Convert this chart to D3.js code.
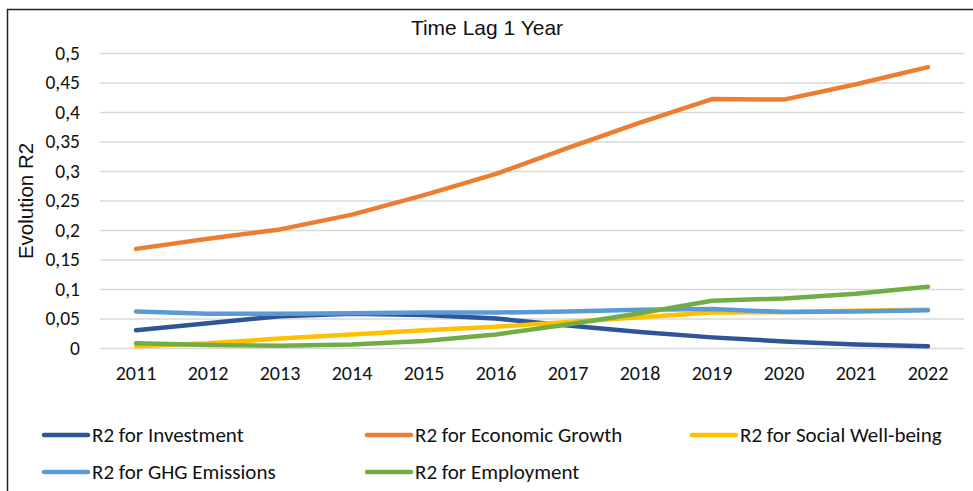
<!DOCTYPE html>
<html><head><meta charset="utf-8">
<script src="https://cdn.jsdelivr.net/npm/d3@7"></script>
<style>body{margin:0;background:#fff}svg{display:block}</style>
</head><body>
<svg id="c" width="973" height="491"></svg>
<script>
const years = [2011,2012,2013,2014,2015,2016,2017,2018,2019,2020,2021,2022];
const investment = [0.030,0.042,0.054,0.058,0.056,0.050,0.038,0.027,0.018,0.011,0.006,0.003];
const economicGrowth = [0.168,0.185,0.201,0.226,0.259,0.295,0.339,0.382,0.422,0.421,0.447,0.476];
const socialWellbeing = [0.003,0.008,0.016,0.023,0.030,0.036,0.044,0.052,0.060,0.061,0.063,0.065];
const ghgEmissions = [0.062,0.058,0.058,0.059,0.060,0.060,0.062,0.065,0.066,0.061,0.062,0.064];
const employment = [0.008,0.005,0.004,0.006,0.012,0.023,0.040,0.059,0.080,0.084,0.092,0.104];
const yTicks = [0,0.05,0.1,0.15,0.2,0.25,0.3,0.35,0.4,0.45,0.5];
const seriesNames = ["R2 for Investment","R2 for Economic Growth","R2 for Social Well-being","R2 for GHG Emissions","R2 for Employment"];
const seriesColors = ["#2F5597","#ED7D31","#FFC000","#5B9BD5","#70AD47"];
const seriesValues = [investment,economicGrowth,socialWellbeing,ghgEmissions,employment];

(function(){
const svg = d3.select("#c");
const pl=100,pr=964,pt=53,pb=348;
const x = d3.scaleBand().domain(years).range([pl,pr]);
const y = d3.scaleLinear().domain([0,0.5]).range([pb,pt]);
const labFont = "Carlito, 'Liberation Sans Narrow', 'Open Sans', sans-serif";

svg.append("path").attr("d","M7.5,491 V9.5 H973").attr("fill","none").attr("stroke","#222").attr("stroke-width",1.5);

const yAxis = d3.axisLeft(y).tickValues(yTicks).tickSize(-(pr-pl)).tickFormat(d=>String(d).replace(".",","));
const gy = svg.append("g").attr("transform",`translate(${pl},0)`).call(yAxis);
gy.select(".domain").remove();
gy.selectAll(".tick line").attr("stroke","#d9d9d9").attr("stroke-width",1.3);
gy.selectAll(".tick text").attr("x",-20).attr("fill","#111").style("font-family",labFont).style("font-size","19.5px");

const xAxis = d3.axisBottom(x).tickSize(0).tickPadding(18);
const gx = svg.append("g").attr("transform",`translate(0,${pb})`).call(xAxis);
gx.select(".domain").remove();
gx.selectAll(".tick text").attr("fill","#111").style("font-family",labFont).style("font-size","20px");

const line = d3.line().x((d,i)=>x(years[i])+x.bandwidth()/2).y(d=>y(d));
seriesValues.forEach((vals,k)=>{
  svg.append("path").datum(vals).attr("d",line).attr("fill","none")
    .attr("stroke",seriesColors[k]).attr("stroke-width",4.5).attr("stroke-linecap","round").attr("stroke-linejoin","round");
});

svg.append("text").attr("x",487).attr("y",35).attr("text-anchor","middle")
  .style("font-family","'Liberation Sans', Arial, sans-serif").style("font-size","21px").attr("fill","#111").text("Time Lag 1 Year");
svg.append("text").attr("transform","translate(33,201) rotate(-90)").attr("text-anchor","middle")
  .style("font-family","'Liberation Sans', Arial, sans-serif").style("font-size","20.5px").attr("fill","#111").text("Evolution R2");

const legPos = [[42,435],[365,435],[690,435],[42,472],[365,472]];
seriesNames.forEach((n,k)=>{
  const [lx,ly]=legPos[k];
  const g = svg.append("g");
  g.append("line").attr("x1",lx+2).attr("x2",lx+46).attr("y1",ly).attr("y2",ly)
    .attr("stroke",seriesColors[k]).attr("stroke-width",4.5).attr("stroke-linecap","round");
  g.append("text").attr("x",lx+50).attr("y",ly).attr("dy","0.35em").attr("fill","#111")
    .style("font-family",labFont).style("font-size","21px").text(n);
});
})();
</script>
</body></html>
